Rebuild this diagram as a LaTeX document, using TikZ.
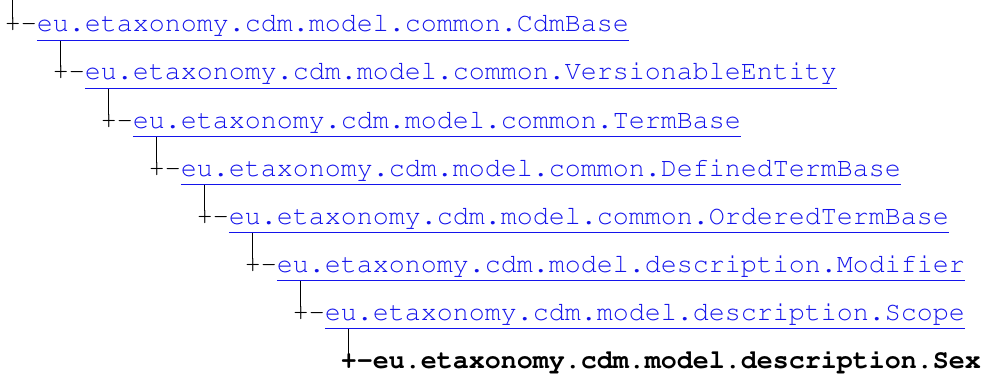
\documentclass[tikz,border=0pt]{standalone}
\usepackage[T1]{fontenc}
\usetikzlibrary{calc}
\definecolor{linkblue}{RGB}{20,20,235}
\newcommand{\courfont}{\fontencoding{T1}\fontfamily{pcr}\fontseries{m}\fontshape{n}\fontsize{20pt}{24pt}\selectfont}
\newcommand{\courbold}{\fontencoding{T1}\fontfamily{pcr}\fontseries{b}\fontshape{n}\fontsize{20pt}{24pt}\selectfont}
\tikzset{
  tree/.style={font=\courfont, inner sep=0pt, outer sep=0pt, anchor=base west},
  plusnode/.style={tree},
  linknode/.style={tree, text=linkblue},
  selfnode/.style={tree, font=\courbold},
  branch/.style={line width=1pt, black},
  uline/.style={line width=1.1pt, linkblue}
}
\newcommand{\treerow}[4]{% #1 name index, #2 x, #3 y, #4 text
  \node[plusnode] (p#1) at (#2,#3) {+};
  \node[plusnode] (d#1) at (p#1.base east) {-};
  \node[linknode] (l#1) at (d#1.base east) {#4};
  \coordinate (u#1) at ($(l#1.base west)+(0,8.7)$);
  \coordinate (v#1) at ($(l#1.base east)+(0,8.7)$);
  \draw[uline] (u#1) -- (v#1);
}
\begin{document}
\begin{tikzpicture}[x=0.75pt,y=-0.75pt]
\useasboundingbox (0,0) rectangle (984,374);
\coordinate (top) at (12.8,0);
\treerow{0}{4.8}{32}{eu.etaxonomy.cdm.model.common.CdmBase}
\treerow{1}{52.8}{80}{eu.etaxonomy.cdm.model.common.VersionableEntity}
\treerow{2}{100.8}{128}{eu.etaxonomy.cdm.model.common.TermBase}
\treerow{3}{148.8}{176}{eu.etaxonomy.cdm.model.common.DefinedTermBase}
\treerow{4}{196.8}{224}{eu.etaxonomy.cdm.model.common.OrderedTermBase}
\treerow{5}{244.8}{272}{eu.etaxonomy.cdm.model.description.Modifier}
\treerow{6}{292.8}{320}{eu.etaxonomy.cdm.model.description.Scope}
\node[selfnode] (p7) at (340.8,368) {+};
\node[selfnode] (d7) at (p7.base east) {-};
\node[selfnode] (l7) at (d7.base east) {eu.etaxonomy.cdm.model.description.Sex};
\draw[branch] (p0.north) -- (p0.north |- top);
\draw[branch] (p1.north) -- (p1.north |- u0);
\draw[branch] (p2.north) -- (p2.north |- u1);
\draw[branch] (p3.north) -- (p3.north |- u2);
\draw[branch] (p4.north) -- (p4.north |- u3);
\draw[branch] (p5.north) -- (p5.north |- u4);
\draw[branch] (p6.north) -- (p6.north |- u5);
\draw[branch] (p7.north) -- (p7.north |- u6);
\end{tikzpicture}
\end{document}
